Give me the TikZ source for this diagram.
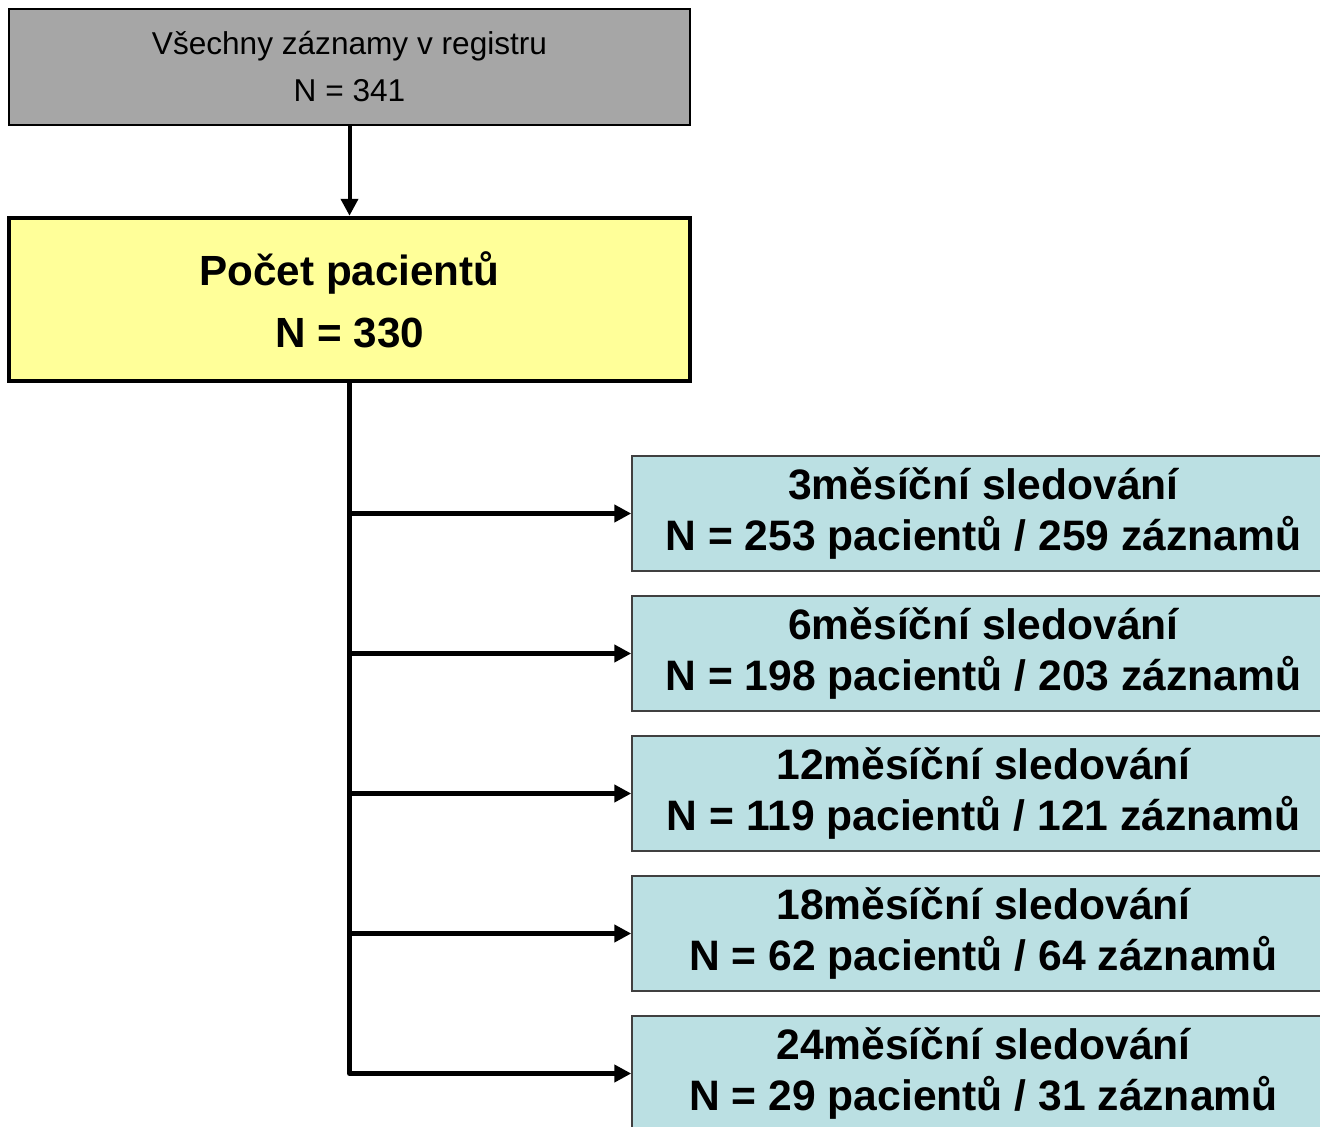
\documentclass[tikz,border=0pt]{standalone}
\usepackage{fontspec}
\setmainfont{Liberation Sans}
\usetikzlibrary{arrows.meta}
\definecolor{sedabox}{RGB}{166,166,166}
\definecolor{zlutabox}{RGB}{255,255,153}
\definecolor{modrabox}{RGB}{187,224,227}

\begin{document}
\begin{tikzpicture}[x=1pt,y=-1pt,
	registr/.style={draw=black,line width=1.5pt,fill=sedabox,minimum width=681pt,minimum height=116pt,inner sep=0pt,align=center,font=\fontsize{31.6}{47}\selectfont},
	pacienti/.style={draw=black,line width=4.5pt,fill=zlutabox,minimum width=681pt,minimum height=163pt,inner sep=0pt,align=center,font=\bfseries\fontsize{42.2}{62}\selectfont},
	sledovani/.style={draw=black!75,line width=1.5pt,fill=modrabox,minimum width=703pt,minimum height=115pt,inner sep=0pt,align=center,font=\bfseries\fontsize{42.6}{51}\selectfont},
	sipka/.style={line width=5pt,line join=round,-{Triangle[length=17pt,width=17pt]}}]
	
	\useasboundingbox (0,0) rectangle (1320,1127);
	
	%REGISTR
	\node[registr] (reg) at (349.5,67) {Všechny záznamy v registru\\N = 341};
	%PACIENTI
	\node[pacienti] (pac) at (349.5,299.5) {Počet pacientů\\N = 330};
	\draw[sipka,line width=4pt] (reg) -- (pac);
	
	%SLEDOVANI
	\node[sledovani] (m3) at (983.5,513.5) {3měsíční sledování\\N = 253 pacientů / 259 záznamů};
	\node[sledovani] (m6) at (983.5,653.5) {6měsíční sledování\\N = 198 pacientů / 203 záznamů};
	\node[sledovani] (m12) at (983.5,793.5) {12měsíční sledování\\N = 119 pacientů / 121 záznamů};
	\node[sledovani] (m18) at (983.5,933.5) {18měsíční sledování\\N = 62 pacientů / 64 záznamů};
	\node[sledovani] (m24) at (983.5,1073.5) {24měsíční sledování\\N = 29 pacientů / 31 záznamů};
	
	%VETVE
	\coordinate (v3) at (pac.south |- m3.west);
	\coordinate (v6) at (pac.south |- m6.west);
	\coordinate (v12) at (pac.south |- m12.west);
	\coordinate (v18) at (pac.south |- m18.west);
	\draw[sipka] (pac.south) |- (m24.west);
	\draw[sipka] (v3) -- (m3.west);
	\draw[sipka] (v6) -- (m6.west);
	\draw[sipka] (v12) -- (m12.west);
	\draw[sipka] (v18) -- (m18.west);
	
\end{tikzpicture}
\end{document}
